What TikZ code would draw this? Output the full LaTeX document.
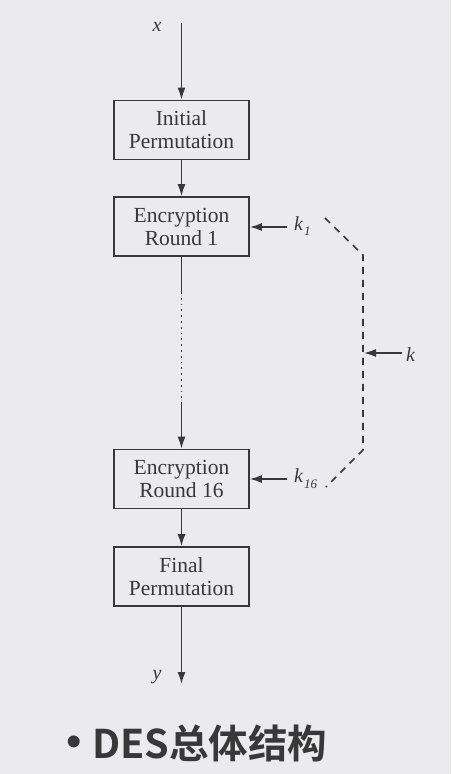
\documentclass[tikz,border=0pt]{standalone}
\usepackage{fontspec}
\setmainfont{Liberation Serif}
\newfontfamily\cjk{Noto Sans CJK SC}[BoldFont={* Bold}]
\newfontfamily\bulfont{Liberation Sans}
\usetikzlibrary{arrows.meta}
\definecolor{bg}{HTML}{EBEBED}
\definecolor{ink}{HTML}{383838}
\begin{document}
\begin{tikzpicture}[x=1pt,y=-1pt,
  blk/.style={draw=ink,line width=1.6pt,minimum width=135pt,minimum height=59pt,align=center,font=\fontsize{21.5}{23}\selectfont,text=ink,inner sep=0pt},
  ln/.style={draw=ink,line width=1.6pt},
  arr/.style={ln,-{Latex[length=12pt,width=8pt]}},
  lbl/.style={text=ink,font=\fontsize{20}{22}\selectfont\itshape,inner sep=0pt}]
\fill[bg] (0,0) rectangle (451,774);
\useasboundingbox (0,0) rectangle (451,774);
\node[blk] (ip) at (181.5,130) {Initial\\Permutation};
\node[blk] (r1) at (181.5,226.5) {Encryption\\Round 1};
\node[blk] (r16) at (181.5,479) {Encryption\\Round 16};
\node[blk] (fp) at (181.5,576.5) {Final\\Permutation};
\coordinate (xin) at (181.5,23);
\coordinate (yout) at (181.5,684);
\coordinate (d1) at (181.5,292);
\coordinate (d2) at (181.5,402);
\node[lbl] (xl) at (157,27) {x};
\node[lbl] (yl) at (157,677) {y};
\draw[arr] (xin) -- (ip);
\draw[arr] (ip) -- (r1);
\draw[ln] (r1) -- (d1);
\draw[ln,line width=1.8pt,dash pattern=on 1.8pt off 4pt] (d1) -- (d2);
\draw[arr] (d2) -- (r16);
\draw[arr] (r16) -- (fp);
\draw[arr] (fp) -- (yout);
\coordinate (k1s) at (287,227);
\coordinate (k16s) at (287,479);
\node[lbl,anchor=west] (k1l) at (294,226) {k\raisebox{-5pt}{\kern1pt\fontsize{13}{13}\selectfont 1}};
\node[lbl,anchor=west] (k16l) at (294,479) {k\raisebox{-6pt}{\kern1pt\fontsize{13}{13}\selectfont 16}};
\draw[arr] (k1s) -- (r1.east |- k1s);
\draw[arr] (k16s) -- (r16.east |- k16s);
\coordinate (a) at (325,218);
\coordinate (b) at (363,255);
\coordinate (c) at (363,450);
\coordinate (d) at (326,487);
\coordinate (km) at (364,353);
\coordinate (ks) at (402,353);
\draw[ln,dash pattern=on 7pt off 6pt] (a) -- (b) -- (c) -- (d);
\draw[arr] (ks) -- (km);
\node[lbl,anchor=west] (kl) at (406,355) {k};
\node[text=ink,font=\bulfont\fontsize{44}{44}\selectfont,anchor=center,inner sep=0pt] (bul) at (74,746) {•};
\node[text=ink,font=\cjk\bfseries\fontsize{39.5}{40}\selectfont,anchor=west,inner sep=0pt] (title) at (92,743) {DES总体结构};
\end{tikzpicture}
\end{document}
